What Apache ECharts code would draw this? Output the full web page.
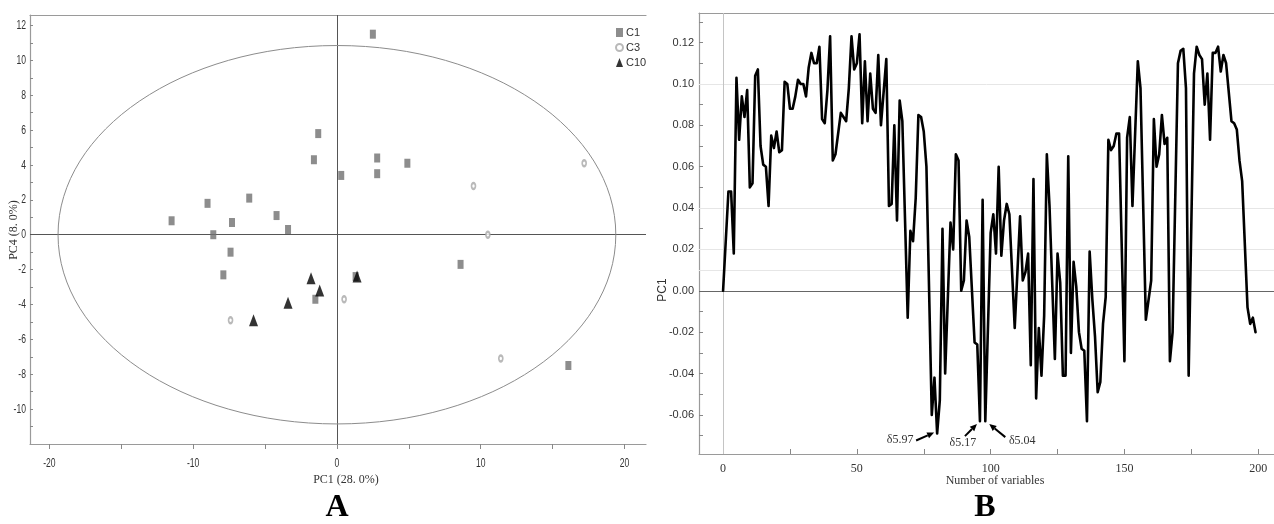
<!DOCTYPE html>
<html>
<head>
<meta charset="utf-8">
<script src="https://cdn.jsdelivr.net/npm/echarts@6/dist/echarts.min.js"></script>
<style>
  html, body { margin: 0; padding: 0; background: #fff; }
  #chart { width: 1274px; height: 524px; }
</style>
</head>
<body>
<div id="chart"></div>
<script>
// ---- Panel A: PCA scores, PC1 vs PC4 ----
const c1Scores = [
  [-11.5, 0.8], [-9.0, 1.8], [-8.6, 0.0], [-7.3, 0.7], [-7.4, -1.0], [-6.1, 2.1],
  [-4.2, 1.1], [-3.4, 0.3], [-1.6, 4.3], [-1.3, 5.8], [2.5, 11.5], [0.3, 3.4],
  [2.8, 4.4], [2.8, 3.5], [4.9, 4.1], [-7.9, -2.3], [-1.5, -3.7], [8.6, -1.7],
  [16.1, -7.5], [1.3, -2.4]
];
const c3Scores = [[9.5, 2.8], [17.2, 4.1], [10.5, 0.0], [-7.4, -4.9], [0.5, -3.7], [11.4, -7.1]];
const c10Scores = [[-1.8, -2.5], [-1.2, -3.2], [-3.4, -3.9], [-5.8, -4.9], [1.4, -2.4]];
const groupNames = ['C1', 'C3', 'C10'];
// Hotelling T2 ellipse: centre and semi-axes (PC1, PC4)
const ellipseCentre = [0, 0];
const ellipseRadii = [19.4, 10.85];
const scoreXTicks = [-20, -15, -10, -5, 0, 5, 10, 15, 20];
const scoreXLabels = [-20, -10, 0, 10, 20];
const scoreYTicks = [-11, -10, -9, -8, -7, -6, -5, -4, -3, -2, -1, 0, 1, 2, 3, 4, 5, 6, 7, 8, 9, 10, 11, 12];
const scoreYLabels = [-10, -8, -6, -4, -2, 0, 2, 4, 6, 8, 10, 12];
const scoreXRange = [-21.35, 21.5];
const scoreYRange = [-12, 12.6];

// ---- Panel B: PC1 loadings per variable ----
const variableIndex = [
  0, 2, 3, 4, 5, 6, 7, 8, 9, 10, 11, 12, 13, 14, 15, 16, 17, 18, 19, 20,
  21, 22, 23, 24, 25, 26, 27, 28, 29, 30, 31, 32, 33, 34, 35, 36, 37, 38, 39, 40,
  41, 42, 44, 45, 46, 47, 48, 49, 50, 51, 52, 53, 54, 55, 56, 57, 58, 59, 61, 62,
  63, 64, 65, 66, 67, 69, 70, 71, 72, 73, 74, 75, 76, 78, 79, 80, 81, 82, 83, 85,
  86, 87, 88, 89, 90, 91, 92, 94, 95, 96, 97, 98, 100, 101, 102, 103, 104, 105, 106, 107,
  109, 111, 112, 113, 114, 115, 116, 117, 118, 119, 120, 121, 122, 124, 125, 126, 127, 128, 129, 130,
  131, 132, 133, 134, 135, 136, 137, 138, 139, 140, 141, 142, 143, 144, 145, 146, 147, 148, 150, 151,
  152, 153, 155, 156, 158, 160, 161, 162, 163, 164, 165, 166, 167, 168, 170, 171, 172, 173, 174, 176,
  177, 178, 179, 180, 181, 182, 183, 184, 185, 186, 187, 188, 190, 191, 192, 193, 194, 196, 197, 198,
  199
];
const pc1Loading = [
  0.000, 0.048, 0.048, 0.018, 0.103, 0.073, 0.094, 0.084, 0.097, 0.050, 0.052, 0.104, 0.107, 0.070, 0.061, 0.060, 0.041, 0.075, 0.069, 0.077,
  0.067, 0.068, 0.101, 0.100, 0.088, 0.088, 0.094, 0.102, 0.100, 0.100, 0.094, 0.108, 0.115, 0.110, 0.110, 0.118, 0.083, 0.081, 0.097, 0.123,
  0.063, 0.066, 0.086, 0.084, 0.082, 0.098, 0.123, 0.107, 0.110, 0.124, 0.081, 0.111, 0.082, 0.105, 0.088, 0.086, 0.114, 0.080, 0.112, 0.041,
  0.042, 0.080, 0.034, 0.092, 0.082, -0.013, 0.029, 0.024, 0.045, 0.085, 0.084, 0.077, 0.060, -0.060, -0.042, -0.069, -0.053, 0.030, -0.040, 0.033,
  0.020, 0.066, 0.063, 0.000, 0.005, 0.034, 0.026, -0.025, -0.026, -0.063, 0.044, -0.063, 0.028, 0.037, 0.018, 0.060, 0.017, 0.034, 0.042, 0.037,
  -0.018, 0.036, 0.005, 0.009, 0.018, -0.036, 0.054, -0.052, -0.018, -0.041, -0.012, 0.066, 0.041, -0.033, 0.018, 0.004, -0.041, -0.041, 0.065, -0.030,
  0.014, 0.002, -0.020, -0.028, -0.029, -0.063, 0.019, -0.004, -0.022, -0.049, -0.044, -0.016, -0.003, 0.073, 0.068, 0.070, 0.076, 0.076, -0.034, 0.074,
  0.084, 0.041, 0.111, 0.098, -0.014, 0.005, 0.083, 0.060, 0.066, 0.085, 0.071, 0.074, -0.034, -0.020, 0.110, 0.116, 0.117, 0.098, -0.041, 0.105,
  0.118, 0.114, 0.112, 0.090, 0.105, 0.073, 0.115, 0.115, 0.118, 0.106, 0.114, 0.110, 0.082, 0.081, 0.078, 0.063, 0.053, -0.008, -0.016, -0.013,
  -0.020
];
const loadingXTicks = [0, 25, 50, 75, 100, 125, 150, 175, 200];
const loadingXLabels = [0, 50, 100, 150, 200];
const loadingYTicks = [-0.07, -0.06, -0.05, -0.04, -0.03, -0.02, -0.01, 0, 0.01, 0.02, 0.03, 0.04, 0.05, 0.06, 0.07, 0.08, 0.09, 0.1, 0.11, 0.12, 0.13];
const loadingYLabels = [-0.06, -0.04, -0.02, 0, 0.02, 0.04, 0.06, 0.08, 0.1, 0.12];
const loadingGridValues = [0.1, 0.04, 0.02, 0.01];
// Marked signals (chemical shift) at variable positions
const markedVariables = [80, 96, 98];
const markedShifts = ['δ5.97', 'δ5.17', 'δ5.04'];

const sansFont = '"Liberation Sans", Arial, sans-serif';
const serifFont = '"Liberation Serif", "DejaVu Serif", serif';
const axisGrey = '#9a9a9a';

const chart = echarts.init(document.getElementById('chart'), null, { renderer: 'canvas' });

function pairs(xs, ys) { return xs.map((x, i) => [x, ys[i]]); }

function frameAxis(gridIndex, range, position) {
  return {
    type: 'value', gridIndex, min: range[0], max: range[1], position,
    axisLine: { show: true, onZero: false, lineStyle: { color: axisGrey, width: 1.2 } },
    axisTick: { show: false }, axisLabel: { show: false }, splitLine: { show: false }
  };
}

const tickLabelStyle = { fontFamily: sansFont, fontSize: 11, color: '#333' };
const loadingXRange = [-9, 205.9];
const loadingYRange = [-0.0789, 0.1343];

const option = {
  animation: false,
  backgroundColor: '#fff',
  grid: [
    { left: 30, top: 15, width: 616, height: 429, outerBoundsMode: 'none' },
    { left: 699, top: 13, width: 575, height: 441, outerBoundsMode: 'none' }
  ],
  legend: {
    data: [
      { name: groupNames[0], icon: 'rect' },
      { name: groupNames[1], icon: 'emptyCircle' },
      { name: groupNames[2], icon: 'triangle' }
    ],
    orient: 'vertical', left: 610, top: 22,
    itemWidth: 7, itemHeight: 9, itemGap: 4,
    textStyle: { fontFamily: sansFont, fontSize: 11, color: '#333', padding: [0, 0, 0, -2] },
    selectedMode: false
  },
  xAxis: [
    {
      type: 'value', gridIndex: 0, min: scoreXRange[0], max: scoreXRange[1],
      axisLine: { show: true, onZero: false, lineStyle: { color: axisGrey, width: 1.2 } },
      axisTick: { show: true, length: 5, customValues: scoreXTicks, lineStyle: { color: '#888' } },
      axisLabel: { show: false },
      splitLine: { show: false }
    },
    {
      type: 'value', gridIndex: 1, min: loadingXRange[0], max: loadingXRange[1],
      axisLine: { show: true, onZero: false, lineStyle: { color: axisGrey, width: 1.2 } },
      axisTick: { show: true, inside: true, length: 5, customValues: loadingXTicks, lineStyle: { color: '#888' } },
      axisLabel: Object.assign({ customValues: loadingXLabels, margin: 9 }, tickLabelStyle, { fontFamily: serifFont, fontSize: 12 }),
      splitLine: { show: false }
    },
    frameAxis(0, scoreXRange, 'top'),
    frameAxis(1, loadingXRange, 'top')
  ],
  yAxis: [
    {
      type: 'value', gridIndex: 0, min: scoreYRange[0], max: scoreYRange[1],
      axisLine: { show: true, onZero: false, lineStyle: { color: axisGrey, width: 1.2 } },
      axisTick: { show: true, inside: true, length: 3, customValues: scoreYTicks, lineStyle: { color: '#888' } },
      axisLabel: { show: false },
      splitLine: { show: false }
    },
    {
      type: 'value', gridIndex: 1, min: loadingYRange[0], max: loadingYRange[1],
      axisLine: { show: true, onZero: false, lineStyle: { color: axisGrey, width: 1.2 } },
      axisTick: { show: true, inside: true, length: 4, customValues: loadingYTicks, lineStyle: { color: '#888' } },
      axisLabel: Object.assign({ customValues: loadingYLabels, margin: 5, formatter: v => v.toFixed(2) }, tickLabelStyle),
      splitLine: { show: false }
    }
  ],
  series: [
    {
      // confidence ellipse and origin lines of the score plot
      type: 'custom', xAxisIndex: 0, yAxisIndex: 0, silent: true, z: 1,
      data: [ellipseCentre],
      renderItem: function (params, api) {
        const c = api.coord(ellipseCentre);
        const s = api.size(ellipseRadii);
        return {
          type: 'ellipse',
          shape: { cx: c[0], cy: c[1], rx: s[0], ry: s[1] },
          style: { fill: 'none', stroke: '#8c8c8c', lineWidth: 1 }
        };
      },
      markLine: {
        silent: true, symbol: 'none', z: 1, label: { show: false },
        lineStyle: { color: '#555', width: 1, type: 'solid' },
        data: [{ yAxis: 0 }, { xAxis: 0 }]
      }
    },
    {
      name: groupNames[0], type: 'scatter', xAxisIndex: 0, yAxisIndex: 0, z: 3,
      symbol: 'rect', symbolSize: [6, 9],
      itemStyle: { color: '#707070' },
      data: c1Scores
    },
    {
      name: groupNames[1], type: 'scatter', xAxisIndex: 0, yAxisIndex: 0, z: 3,
      symbol: 'emptyCircle', symbolSize: [4, 6],
      itemStyle: { color: '#a8a8a8', borderWidth: 1 },
      data: c3Scores
    },
    {
      name: groupNames[2], type: 'scatter', xAxisIndex: 0, yAxisIndex: 0, z: 4,
      symbol: 'triangle', symbolSize: [9, 12],
      itemStyle: { color: '#000' },
      data: c10Scores
    },
    {
      name: 'PC1 loading', type: 'line', xAxisIndex: 1, yAxisIndex: 1, z: 3,
      showSymbol: false, symbol: 'none',
      lineStyle: { color: '#000', width: 2.6, join: 'round', cap: 'round' },
      data: pairs(variableIndex, pc1Loading),
      markLine: {
        silent: true, symbol: 'none', z: 1, label: { show: false },
        data: loadingGridValues.map(v => ({ yAxis: v, lineStyle: { color: '#e6e6e6', width: 1, type: 'solid' } }))
          .concat([
            { yAxis: 0, lineStyle: { color: '#666', width: 1, type: 'solid' } },
            { xAxis: 0, lineStyle: { color: '#c4c4c4', width: 1, type: 'solid' } }
          ])
      }
    }
  ]
};

chart.setOption(option);

// ---- tick labels of panel A (condensed digits), titles, letters, annotations ----
function arrow(from, to) {
  const dx = to[0] - from[0], dy = to[1] - from[1];
  const len = Math.sqrt(dx * dx + dy * dy);
  const ux = dx / len, uy = dy / len;
  const headLen = 7, headHalf = 3.2;
  const base = [to[0] - ux * headLen, to[1] - uy * headLen];
  return [
    { type: 'line', shape: { x1: from[0], y1: from[1], x2: base[0], y2: base[1] }, style: { stroke: '#000', lineWidth: 2 }, silent: true },
    { type: 'polygon', shape: { points: [to, [base[0] - uy * headHalf, base[1] + ux * headHalf], [base[0] + uy * headHalf, base[1] - ux * headHalf]] }, style: { fill: '#000' }, silent: true }
  ];
}

function textEl(str, x, y, font, extra, fill, align) {
  return Object.assign({
    type: 'text', x, y, silent: true,
    style: { text: str, font, fill: fill || '#333', align: align || 'center', verticalAlign: 'middle' }
  }, extra || {});
}

// text and arrow placement relative to each marked point (pixels)
const annotationLayout = [
  { text: [-37, 6], from: [-21, 7], to: [-3, -1] },
  { text: [-17, 22], from: [-15, 15], to: [-3, 3] },
  { text: [37, 20], from: [20, 16], to: [4, 3] }
];

const condensed = { scaleX: 0.66 };
const graphics = [];

scoreXLabels.forEach(v => {
  const p = chart.convertToPixel({ xAxisIndex: 0, yAxisIndex: 0 }, [v, scoreYRange[0]]);
  graphics.push(textEl(String(v), p[0], p[1] + 19, '13px ' + sansFont, condensed));
});
scoreYLabels.forEach(v => {
  const p = chart.convertToPixel({ xAxisIndex: 0, yAxisIndex: 0 }, [scoreXRange[0], v]);
  graphics.push(textEl(String(v), p[0] - 4, p[1], '13px ' + sansFont, condensed, '#333', 'right'));
});

graphics.push(
  textEl('PC1 (28. 0%)', 346, 480, '12px ' + serifFont),
  textEl('PC4 (8. 0%)', 14, 230, '12px ' + serifFont, { rotation: Math.PI / 2 }),
  textEl('PC1', 663, 290, '12px ' + sansFont, { rotation: Math.PI / 2 }),
  textEl('Number of variables', 995, 481, '12px ' + serifFont),
  textEl('A', 337, 508, 'bold 32px ' + serifFont, null, '#000'),
  textEl('B', 985, 508, 'bold 32px ' + serifFont, null, '#000')
);

markedVariables.forEach((v, i) => {
  const k = variableIndex.indexOf(v);
  const p = chart.convertToPixel({ gridIndex: 1 }, [v, pc1Loading[k]]);
  const lay = annotationLayout[i];
  graphics.push(textEl(markedShifts[i], p[0] + lay.text[0], p[1] + lay.text[1], '12px ' + serifFont));
  arrow([p[0] + lay.from[0], p[1] + lay.from[1]], [p[0] + lay.to[0], p[1] + lay.to[1]]).forEach(g => graphics.push(g));
});

chart.setOption({ graphic: { elements: graphics } });
</script>
</body>
</html>
